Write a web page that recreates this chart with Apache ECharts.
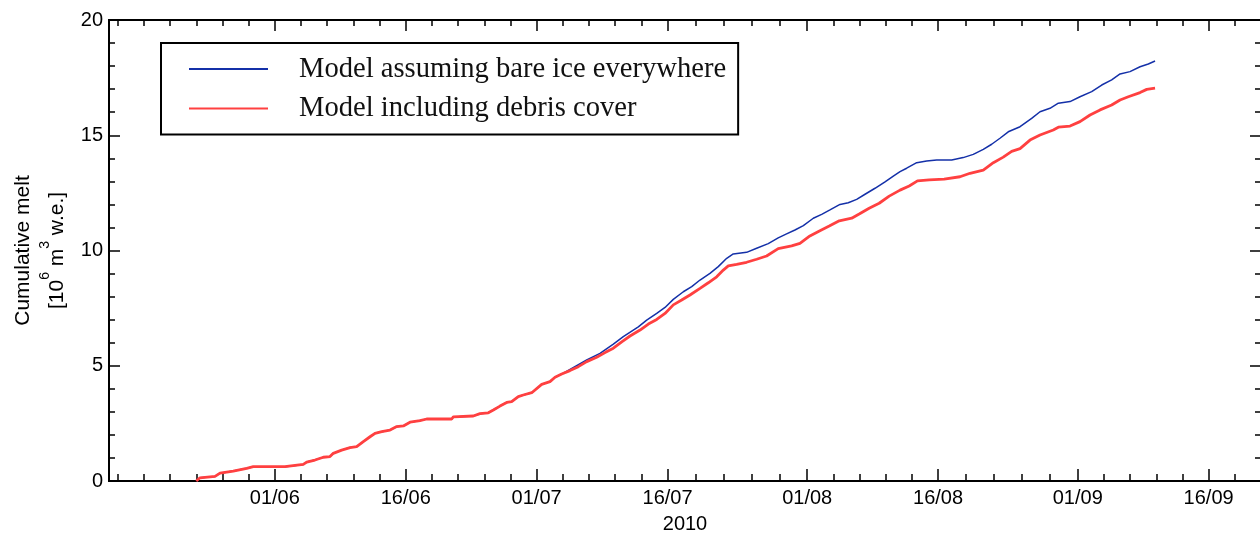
<!DOCTYPE html>
<html><head><meta charset="utf-8">
<script src="https://cdn.jsdelivr.net/npm/echarts@6/dist/echarts.min.js"></script>
<style>html,body{margin:0;padding:0;background:#fff}#chart{width:1260px;height:537px}</style>
</head><body><div id="chart"></div>
<script>
// x values are day of year 2010 (1 = 1 Jan); y values in 10^6 m^3 w.e.
const debrisDay = [143.0,143.43,145.15,145.72,147.24,148.78,149.53,153.17,153.36,155.26,155.65,156.6,157.56,158.32,158.7,159.66,160.62,161.38,162.14,162.91,163.48,164.25,165.2,165.97,166.73,167.49,168.64,169.4,172.27,172.45,174.74,175.51,176.46,177.04,177.8,178.57,179.14,179.9,180.47,181.44,182.58,183.53,184.11,184.87,185.82,186.78,187.74,188.88,189.84,190.79,191.75,192.7,193.85,194.8,195.76,196.71,197.66,198.62,199.57,200.72,201.67,202.63,203.39,203.96,204.92,206.06,207.21,208.35,209.68,211.22,212.17,213.31,214.46,215.53,216.68,218.1,218.96,220.1,221.25,222.4,223.64,224.69,225.64,226.98,228.7,230.51,231.66,233.18,234.33,235.47,236.43,237.39,238.53,239.68,241.2,241.78,243.12,244.26,245.41,246.56,247.89,248.85,249.8,251.14,251.91,252.86];
const debrisMelt = [0,0.14,0.2,0.34,0.43,0.55,0.62,0.62,0.69,0.72,0.82,0.91,1.03,1.06,1.2,1.34,1.45,1.49,1.71,1.92,2.07,2.14,2.21,2.36,2.39,2.55,2.62,2.69,2.69,2.78,2.82,2.92,2.96,3.08,3.25,3.41,3.44,3.66,3.73,3.83,4.19,4.31,4.5,4.64,4.79,4.96,5.18,5.37,5.57,5.76,6.04,6.29,6.55,6.81,7.01,7.27,7.64,7.85,8.07,8.36,8.6,8.86,9.15,9.33,9.4,9.49,9.62,9.76,10.08,10.2,10.31,10.63,10.86,11.06,11.29,11.4,11.58,11.83,12.05,12.36,12.62,12.8,13.02,13.06,13.1,13.2,13.35,13.49,13.81,14.05,14.3,14.42,14.79,15.01,15.23,15.35,15.4,15.59,15.88,16.1,16.31,16.53,16.67,16.85,16.99,17.04];
const bareDay = [143.0,143.43,145.15,145.72,147.24,148.78,149.53,153.17,153.36,155.26,155.65,156.6,157.56,158.32,158.7,159.66,160.62,161.38,162.14,162.91,163.48,164.25,165.2,165.97,166.73,167.49,168.64,169.4,172.27,172.45,174.74,175.51,176.46,177.04,177.8,178.57,179.14,179.9,180.47,181.44,182.58,183.53,184.11,184.87,187.74,189.26,190.79,191.93,193.65,194.61,195.76,196.71,197.66,198.81,199.77,200.72,201.86,202.81,203.78,204.53,206.06,207.21,208.54,209.68,210.64,211.6,212.56,213.7,214.66,215.61,216.76,217.71,218.67,219.63,220.77,221.92,222.87,223.64,224.4,225.55,226.69,227.84,229.56,230.88,232.03,233.18,234.14,235.09,236.04,237.39,238.72,239.68,240.82,241.78,243.12,244.26,245.6,246.75,247.89,248.85,249.99,251.14,252.09,252.86];
const bareMelt = [0,0.14,0.2,0.34,0.43,0.55,0.62,0.62,0.69,0.72,0.82,0.91,1.03,1.06,1.2,1.34,1.45,1.49,1.71,1.92,2.07,2.14,2.21,2.36,2.39,2.55,2.62,2.69,2.69,2.78,2.82,2.92,2.96,3.08,3.25,3.41,3.44,3.66,3.73,3.83,4.19,4.31,4.5,4.64,5.25,5.54,5.94,6.26,6.69,6.98,7.27,7.53,7.88,8.21,8.43,8.72,9.01,9.3,9.66,9.85,9.92,10.1,10.3,10.55,10.72,10.89,11.08,11.4,11.57,11.76,12.0,12.07,12.22,12.44,12.7,12.98,13.23,13.42,13.57,13.81,13.88,13.93,13.93,14.03,14.17,14.39,14.61,14.87,15.15,15.37,15.73,16.02,16.17,16.39,16.46,16.67,16.89,17.18,17.4,17.66,17.76,17.97,18.09,18.22];
const seriesNames = ['Model assuming bare ice everywhere', 'Model including debris cover'];
const majorTickDays = [152,167,182,197,213,228,244,259];
const majorTickLabels = ['01/06','16/06','01/07','16/07','01/08','16/08','01/09','16/09'];
const minorTickDays = [134,137,140,143,146,149,155,158,161,164,170,173,176,179,185,188,191,194,200.2,203.4,206.6,209.8,216,219,222,225,231.2,234.4,237.6,240.8,247,250,253,256,262];
const xTitle = '2010';
const yTitleLine1 = 'Cumulative melt';
const xMin = 133, xMax = 265, yMin = 0, yMax = 20, yStep = 5;

const labelMap = {};
majorTickDays.forEach((d, i) => { labelMap[d] = majorTickLabels[i]; });
const pairs = (xs, ys) => xs.map((x, i) => [x, ys[i]]);

const black = '#000';
const sans = 'Liberation Sans, Arial, sans-serif';
function xAxisDef(pos, values, len, withLabels) {
  return {
    type: 'value', position: pos, min: xMin, max: xMax,
    axisLine: { show: true, lineStyle: { color: black, width: 2 } },
    splitLine: { show: false },
    axisTick: { show: true, inside: true, length: len, customValues: values, lineStyle: { color: black, width: 1.5 } },
    axisLabel: withLabels ? {
      show: true, customValues: values, margin: 7, color: black, fontSize: 20, fontFamily: sans,
      formatter: v => labelMap[v] || ''
    } : { show: false }
  };
}
const chart = echarts.init(document.getElementById('chart'), null, { renderer: 'canvas' });
const yBase = {
  type: 'value', min: yMin, max: yMax, interval: yStep,
  axisLine: { show: true, lineStyle: { color: black, width: 2 } },
  splitLine: { show: false },
  axisTick: { show: true, inside: true, length: 11, lineStyle: { color: black, width: 1.5 } },
  minorTick: { show: true, splitNumber: 5, length: 6, lineStyle: { color: black, width: 1.5 } }
};
const bottomMajor = xAxisDef('bottom', majorTickDays, 12, true);
bottomMajor.name = xTitle;
bottomMajor.nameLocation = 'middle';
bottomMajor.nameGap = 33;
bottomMajor.nameTextStyle = { color: black, fontSize: 20, fontFamily: sans };

chart.setOption({
  animation: false,
  backgroundColor: '#fff',
  grid: { left: 109, top: 20, width: 1152, height: 461, containLabel: false, outerBoundsMode: 'none' },
  xAxis: [
    bottomMajor,
    xAxisDef('bottom', minorTickDays, 7, false),
    xAxisDef('top', majorTickDays, 11, false),
    xAxisDef('top', minorTickDays, 6, false)
  ],
  yAxis: [
    Object.assign({}, yBase, {
      position: 'left',
      axisLabel: { show: true, margin: 6, color: black, fontSize: 20, fontFamily: sans },
      name: '{b|' + yTitleLine1 + '}\n{a|[10}{sup|6}{a| m}{sup|3}{a| w.e.]}',
      nameLocation: 'middle', nameRotate: 90, nameGap: 32,
      nameTextStyle: {
        color: black, fontSize: 21, fontFamily: sans, align: 'center',
        rich: {
          b: { fontSize: 21, fontFamily: sans, color: black, lineHeight: 29 },
          a: { fontSize: 21, fontFamily: sans, color: black, lineHeight: 39 },
          sup: { fontSize: 14, fontFamily: sans, color: black, lineHeight: 16, verticalAlign: 'top' }
        }
      }
    }),
    Object.assign({}, yBase, { position: 'right', axisLabel: { show: false } })
  ],
  legend: {
    orient: 'vertical', left: 161, top: 43,
    padding: [11, 12, 11, 27],
    borderColor: black, borderWidth: 2,
    itemWidth: 79, itemHeight: 14, itemGap: 9.5,
    itemStyle: { opacity: 0 },
    data: seriesNames,
    textStyle: { color: '#111', fontSize: 28.6, fontFamily: 'Liberation Serif, Times New Roman, serif', lineHeight: 30, padding: [0, 0, 0, 26] }
  },
  series: [
    {
      name: seriesNames[0], type: 'line', xAxisIndex: 0, yAxisIndex: 0,
      data: pairs(bareDay, bareMelt), showSymbol: false, symbol: 'none',
      lineStyle: { color: '#1430a8', width: 1.5 }, itemStyle: { color: '#1430a8' }, z: 2
    },
    {
      name: seriesNames[1], type: 'line', xAxisIndex: 0, yAxisIndex: 0,
      data: pairs(debrisDay, debrisMelt), showSymbol: false, symbol: 'none',
      lineStyle: { color: '#ff4040', width: 2.8 }, itemStyle: { color: '#ff4040' }, z: 3
    }
  ]
});
</script></body></html>
